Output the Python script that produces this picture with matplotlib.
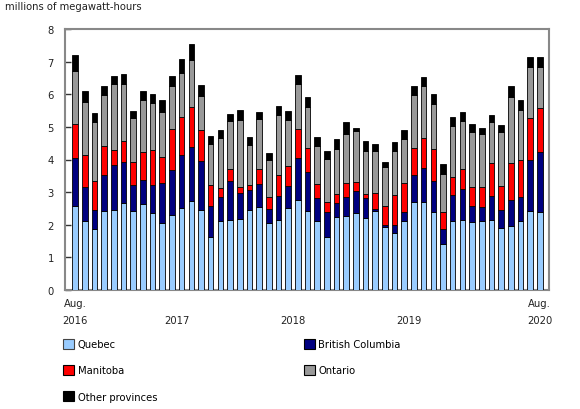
import matplotlib
matplotlib.use("Agg")
import matplotlib.pyplot as plt
from matplotlib.patches import Patch
import numpy as np

plt.rcParams['font.family'] = ['DejaVu Sans']

# Monthly, Aug 2016 .. Aug 2020 (49 months), millions of MWh
quebec = [2.57, 2.11, 1.87, 2.43, 2.46, 2.68, 2.41, 2.63, 2.37, 2.04, 2.31, 2.51,
          2.72, 2.44, 1.62, 2.11, 2.14, 2.18, 2.45, 2.55, 2.04, 2.16, 2.50, 2.75,
          2.42, 2.12, 1.62, 2.25, 2.28, 2.36, 2.21, 2.42, 1.93, 1.75, 2.13, 2.70,
          2.70, 2.39, 1.42, 2.13, 2.15, 2.08, 2.12, 2.14, 1.89, 1.96, 2.11, 2.42,
          2.39]
british_columbia = [1.48, 1.05, 0.58, 1.08, 1.36, 1.25, 0.82, 0.74, 0.86, 1.25, 1.37, 1.64,
                    1.67, 1.52, 0.97, 0.74, 1.21, 0.80, 0.62, 0.69, 0.44, 0.72, 0.68, 1.29,
                    1.20, 0.70, 0.77, 0.43, 0.56, 0.68, 0.60, 0.05, 0.05, 0.25, 0.26, 0.82,
                    1.04, 0.95, 0.46, 0.79, 0.96, 0.48, 0.42, 0.74, 0.57, 0.79, 0.75, 1.55,
                    1.85]
manitoba = [1.04, 0.97, 0.89, 0.89, 0.48, 0.65, 0.70, 0.87, 1.05, 0.80, 1.26, 1.16,
            1.21, 0.94, 0.64, 0.29, 0.36, 0.18, 0.16, 0.48, 0.36, 0.63, 0.61, 0.90,
            0.72, 0.43, 0.31, 0.27, 0.45, 0.27, 0.14, 0.50, 0.58, 0.91, 0.89, 0.82,
            0.93, 0.98, 0.51, 0.53, 0.60, 0.60, 0.62, 1.01, 0.74, 1.13, 1.13, 1.31,
            1.35]
ontario = [1.63, 1.62, 1.82, 1.58, 2.02, 1.72, 1.33, 1.59, 1.45, 1.36, 1.32, 1.35,
           1.46, 1.05, 1.23, 1.53, 1.48, 2.05, 1.21, 1.51, 1.14, 1.85, 1.42, 1.36,
           1.27, 1.16, 1.33, 1.37, 1.49, 1.55, 1.31, 1.29, 1.20, 1.36, 1.34, 1.63,
           1.59, 1.38, 1.18, 1.57, 1.47, 1.69, 1.62, 1.26, 1.63, 2.04, 1.53, 1.54,
           1.23]
other = [0.47, 0.36, 0.28, 0.28, 0.24, 0.32, 0.23, 0.27, 0.28, 0.38, 0.31, 0.42,
         0.48, 0.34, 0.27, 0.24, 0.20, 0.30, 0.24, 0.23, 0.23, 0.29, 0.28, 0.29,
         0.31, 0.29, 0.23, 0.30, 0.37, 0.12, 0.31, 0.22, 0.17, 0.26, 0.28, 0.29,
         0.27, 0.31, 0.28, 0.29, 0.29, 0.23, 0.19, 0.21, 0.23, 0.33, 0.30, 0.32,
         0.33]

series_names = ["Quebec", "British Columbia", "Manitoba", "Ontario", "Other provinces"]
series_colors = ["#99ccff", "#000080", "#ff0000", "#999999", "#000000"]
x_tick_pos = [0, 10.5, 22.5, 34.5, 48]
x_tick_labels = ["Aug.\n2016", "\n2017", "\n2018", "\n2019", "Aug.\n2020"]
y_ticks = [0, 1, 2, 3, 4, 5, 6, 7, 8]

FS = 7.2

fig = plt.figure(figsize=(5.8, 4.1), dpi=100)
ax = fig.add_axes([65/580, 1-291/410, (549-65)/580, (291-30)/410])

x = np.arange(len(quebec))
bottom = np.zeros(len(quebec))
for vals, name, col in zip([quebec, british_columbia, manitoba, ontario, other],
                           series_names, series_colors):
    ax.bar(x, vals, bottom=bottom, width=0.58, color=col, edgecolor="black",
           linewidth=0.6, label=name, zorder=3)
    bottom += np.array(vals)

ax.set_xlim(-1.05, 48.95)
ax.set_ylim(0, 8)
ax.set_yticks(y_ticks)
ax.set_yticklabels([str(v) for v in y_ticks], fontsize=FS, color="#222222")
ax.set_xticks(x_tick_pos)
ax.set_xticklabels(x_tick_labels, fontsize=FS, linespacing=1.8, color="#222222")
ax.tick_params(axis="x", length=0, pad=6)
ax.tick_params(axis="y", direction="in", length=4, width=1, color="#333333", pad=8)
for s in ax.spines.values():
    s.set_color("#888888")
    s.set_linewidth(1.5)

fig.text(5/580, 1-7/410, "millions of megawatt-hours", fontsize=FS, va="center",
         ha="left", color="#222222")

handles = [Patch(facecolor=c, edgecolor="black" if c != "#99ccff" else "#444444",
                 linewidth=0.8) for c in series_colors]
order = [0, 2, 4, 1, 3]
fig.legend([handles[i] for i in order], [series_names[i] for i in order],
           ncol=2, loc="upper left", bbox_to_anchor=(63/580, 1-340/410),
           frameon=False, fontsize=FS, handlelength=1.1, handleheight=1.1,
           handletextpad=0.4, labelspacing=1.6, columnspacing=14.6,
           borderaxespad=0, borderpad=0)

fig.savefig("out.png", dpi=100)
